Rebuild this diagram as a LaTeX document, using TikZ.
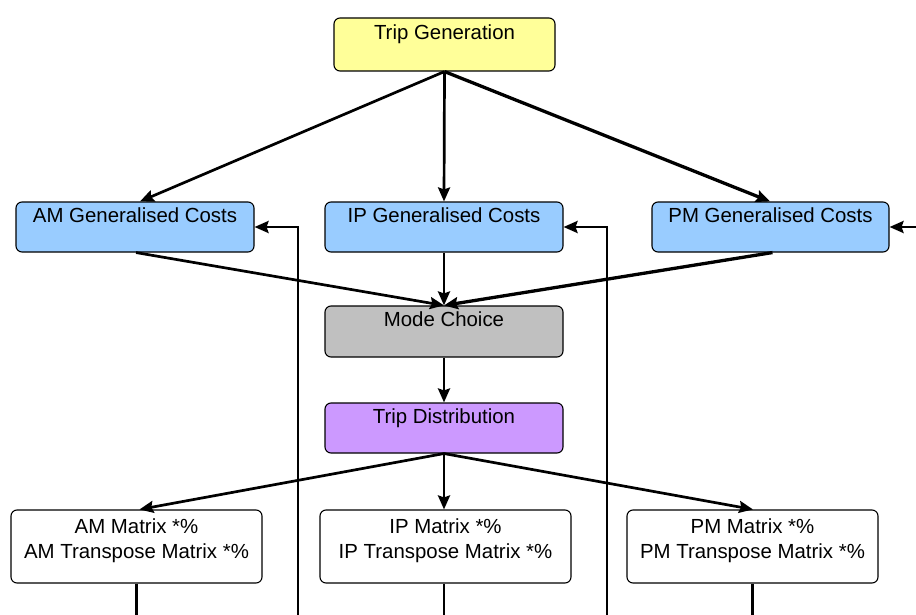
\documentclass[tikz,border=0pt]{standalone}
\usepackage{fontspec}
\setmainfont{Liberation Sans}
\usetikzlibrary{arrows.meta}
\definecolor{tgfill}{HTML}{FFFF99}
\definecolor{gcfill}{HTML}{99CCFF}
\definecolor{mcfill}{HTML}{C0C0C0}
\definecolor{tdfill}{HTML}{CC99FF}
\tikzset{
  procbox/.style={draw=black, line width=1.1pt, rounded corners=6pt, inner sep=0pt},
  lbl/.style={anchor=base, inner sep=0pt, font=\fontsize{20.4}{25}\selectfont},
  arr/.style={line width=2.7pt, -{Stealth[length=14pt,width=12pt,inset=2pt]}},
  plain/.style={line width=2.7pt}
}
\begin{document}
\begin{tikzpicture}[x=1pt,y=-1pt]
\useasboundingbox (0,0) rectangle (916,615);
% boxes
\node[procbox, fill=tgfill, minimum width=221pt, minimum height=53pt] (tg) at (444.5,44.5) {};
\node[procbox, fill=gcfill, minimum width=238pt, minimum height=50pt] (amgc) at (135,227) {};
\node[procbox, fill=gcfill, minimum width=238pt, minimum height=50pt] (ipgc) at (444,227) {};
\node[procbox, fill=gcfill, minimum width=237pt, minimum height=50pt] (pmgc) at (770.5,227) {};
\node[procbox, fill=mcfill, minimum width=238pt, minimum height=51pt] (mc) at (444,331.5) {};
\node[procbox, fill=tdfill, minimum width=238pt, minimum height=50pt] (td) at (444,428) {};
\node[procbox, fill=white, minimum width=251pt, minimum height=73pt] (amm) at (136.5,546.5) {};
\node[procbox, fill=white, minimum width=251pt, minimum height=73pt] (ipm) at (445.5,546.5) {};
\node[procbox, fill=white, minimum width=251pt, minimum height=73pt] (pmm) at (752.5,546.5) {};
% labels
\node[lbl] (tgt) at ([yshift=-22.5pt]tg.north) {Trip Generation};
\node[lbl] (amgct) at ([yshift=-21.5pt]amgc.north) {AM Generalised Costs};
\node[lbl] (ipgct) at ([yshift=-21.5pt]ipgc.north) {IP Generalised Costs};
\node[lbl] (pmgct) at ([yshift=-21.5pt]pmgc.north) {PM Generalised Costs};
\node[lbl] (mct) at ([yshift=-21.5pt]mc.north) {Mode Choice};
\node[lbl] (tdt) at ([yshift=-21.5pt]td.north) {Trip Distribution};
\node[lbl] (amt1) at ([yshift=-24.5pt]amm.north) {AM Matrix *\%};
\node[lbl] (amt2) at ([yshift=-49.5pt]amm.north) {AM Transpose Matrix *\%};
\node[lbl] (ipt1) at ([yshift=-24.5pt]ipm.north) {IP Matrix *\%};
\node[lbl] (ipt2) at ([yshift=-49.5pt]ipm.north) {IP Transpose Matrix *\%};
\node[lbl] (pmt1) at ([yshift=-24.5pt]pmm.north) {PM Matrix *\%};
\node[lbl] (pmt2) at ([yshift=-49.5pt]pmm.north) {PM Transpose Matrix *\%};
% free ends
\coordinate (fbam) at (298,615);
\coordinate (fbip) at (607,615);
\coordinate (fbpm) at (916,227);
% connectors
\draw[arr] (tg.south) -- ([xshift=5pt]amgc.north);
\draw[arr] (tg.south) -- (ipgc.north);
\draw[arr, line width=3.3pt] (tg.south) -- ([xshift=-0.5pt]pmgc.north);
\draw[arr] ([xshift=1pt]amgc.south) -- (mc.north);
\draw[arr] (ipgc.south) -- (mc.north);
\draw[arr, line width=3.3pt] ([xshift=2pt]pmgc.south) -- (mc.north);
\draw[arr] (mc.south) -- (td.north);
\draw[arr] (td.south) -- ([xshift=3pt]amm.north);
\draw[arr] (td.south) -- ([xshift=-1.5pt]ipm.north);
\draw[arr] (td.south) -- ([xshift=0.5pt]pmm.north);
\draw[arr] (fbam) |- (amgc.east);
\draw[arr] (fbip) |- (ipgc.east);
\draw[arr] (fbpm) -- (pmgc.east);
\draw[plain] (amm.south) -- (amm.south |- fbam);
\draw[plain] ([xshift=-1.5pt]ipm.south) -- ([xshift=-1.5pt]ipm.south |- fbam);
\draw[plain] (pmm.south) -- (pmm.south |- fbam);
\end{tikzpicture}
\end{document}
